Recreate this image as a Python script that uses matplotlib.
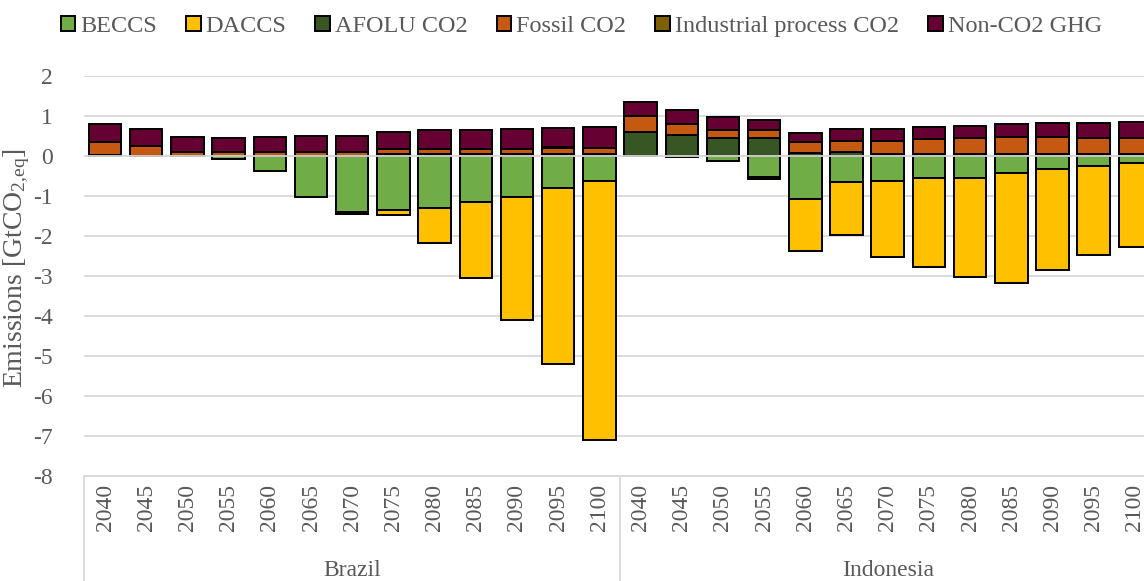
import numpy as np
import matplotlib
matplotlib.use('Agg')
import matplotlib.pyplot as plt
from matplotlib.patches import Patch
import matplotlib.transforms as mtransforms

plt.rcParams['font.family'] = ['Liberation Serif', 'DejaVu Serif']
plt.rcParams['mathtext.fontset'] = 'custom'
plt.rcParams['mathtext.rm'] = 'Liberation Serif'
plt.rcParams['mathtext.it'] = 'Liberation Serif:italic'
plt.rcParams['axes.unicode_minus'] = False

years = ['2040', '2045', '2050', '2055', '2060', '2065', '2070',
         '2075', '2080', '2085', '2090', '2095', '2100']
regions = ['Brazil', 'Indonesia']

# Brazil
bra_beccs = [0, 0, 0, -0.08, -0.37, -1.03, -1.39, -1.34, -1.29, -1.15, -1.03, -0.80, -0.62]
bra_daccs = [0, 0, 0, 0, 0, 0, -0.06, -0.13, -0.89, -1.89, -3.08, -4.40, -6.47]
bra_afolu = [0.02, 0.01, 0, 0, 0, 0, 0, 0.04, 0.05, 0.05, 0.05, 0.06, 0.06]
bra_fossil = [0.33, 0.23, 0.09, 0.09, 0.09, 0.09, 0.09, 0.13, 0.12, 0.12, 0.12, 0.15, 0.14]
bra_indus = [0.01, 0.01, 0.01, 0.01, 0.01, 0.01, 0.01, 0.01, 0.01, 0.01, 0.01, 0.01, 0.01]
bra_nonco2 = [0.45, 0.43, 0.38, 0.34, 0.38, 0.40, 0.41, 0.42, 0.46, 0.48, 0.49, 0.49, 0.51]

# Indonesia
idn_beccs = [0, -0.02, -0.12, -0.52, -1.07, -0.64, -0.62, -0.56, -0.56, -0.42, -0.33, -0.25, -0.18]
idn_daccs = [0, 0, 0, -0.06, -1.31, -1.34, -1.90, -2.22, -2.46, -2.75, -2.52, -2.23, -2.09]
idn_afolu = [0.61, 0.53, 0.44, 0.44, 0.08, 0.10, 0.04, 0.04, 0.04, 0.04, 0.04, 0.04, 0.04]
idn_fossil = [0.39, 0.27, 0.21, 0.21, 0.26, 0.28, 0.33, 0.38, 0.40, 0.44, 0.44, 0.42, 0.40]
idn_indus = [0, 0, 0, 0, 0, 0, 0, 0, 0, 0, 0, 0, 0]
idn_nonco2 = [0.36, 0.35, 0.33, 0.25, 0.24, 0.30, 0.30, 0.30, 0.31, 0.32, 0.35, 0.37, 0.42]

series = ['BECCS', 'DACCS', 'AFOLU CO2', 'Fossil CO2', 'Industrial process CO2', 'Non-CO2 GHG']
colors = ['#70AD47', '#FFC000', '#375623', '#C65911', '#7F6000', '#660033']

data = {
    'BECCS': bra_beccs + idn_beccs,
    'DACCS': bra_daccs + idn_daccs,
    'AFOLU CO2': bra_afolu + idn_afolu,
    'Fossil CO2': bra_fossil + idn_fossil,
    'Industrial process CO2': bra_indus + idn_indus,
    'Non-CO2 GHG': bra_nonco2 + idn_nonco2,
}

grey = '#595959'
fs = 17

fig = plt.figure(figsize=(11.44, 5.81), dpi=100)
ax = fig.add_axes([0.0738, 0.1807, 0.9363, 0.6885])

x = np.arange(len(years) * len(regions))
pos_bottom = np.zeros(len(x))
neg_bottom = np.zeros(len(x))
for name, col in zip(series, colors):
    vals = np.array(data[name], dtype=float)
    bottom = np.where(vals >= 0, pos_bottom, neg_bottom)
    ax.bar(x, vals, 0.79, bottom=bottom, color=col, edgecolor='black',
           linewidth=1.4, zorder=3)
    pos_bottom += np.where(vals >= 0, vals, 0)
    neg_bottom += np.where(vals < 0, vals, 0)

ax.set_ylim(-8, 2)
ax.set_xlim(-0.5, len(x) - 0.5)
ax.set_yticks(np.arange(-8, 3, 1))
ax.grid(axis='y', color='#D9D9D9', linewidth=1.3, zorder=0)
ax.axhline(0, color='#D9D9D9', linewidth=1.3, zorder=4)
ax.set_axisbelow(True)

for s in ['top', 'right', 'left']:
    ax.spines[s].set_visible(False)
ax.spines['bottom'].set_color('#D9D9D9')
ax.spines['bottom'].set_linewidth(1.3)

ax.set_xticks(x)
ax.set_xticklabels(years * len(regions), rotation=90)
ax.tick_params(axis='x', length=0, pad=6, labelsize=fs, labelcolor=grey)
ax.tick_params(axis='y', length=0, pad=23, labelsize=fs, labelcolor=grey)

ax.set_ylabel(r'Emissions [GtCO$_{\mathrm{2,\!eq}}$]', fontsize=20, color=grey)
ax.yaxis.label.set_va('center')
ax.yaxis.set_label_coords(-0.063, 0.52)

trans = mtransforms.blended_transform_factory(ax.transData, ax.transAxes)
n = len(years)
for i, reg in enumerate(regions):
    ax.text(i * n + (n - 1) / 2, -0.235, reg, transform=trans, ha='center',
            va='center', fontsize=fs, color=grey)
for b in range(len(regions) + 1):
    ax.plot([b * n - 0.5, b * n - 0.5], [0, -0.4], transform=trans,
            color='#D9D9D9', linewidth=1.3, clip_on=False)

handles = [Patch(facecolor=c, edgecolor='black', linewidth=1.4, label=s)
           for s, c in zip(series, colors)]
leg = fig.legend(handles=handles, loc='center', bbox_to_anchor=(0.508, 0.955),
                 ncol=6, frameon=False, fontsize=17.5, handlelength=0.6,
                 handleheight=0.6, handletextpad=0.2, columnspacing=1.2)
for t in leg.get_texts():
    t.set_color(grey)

fig.savefig('out.png', dpi=100)
